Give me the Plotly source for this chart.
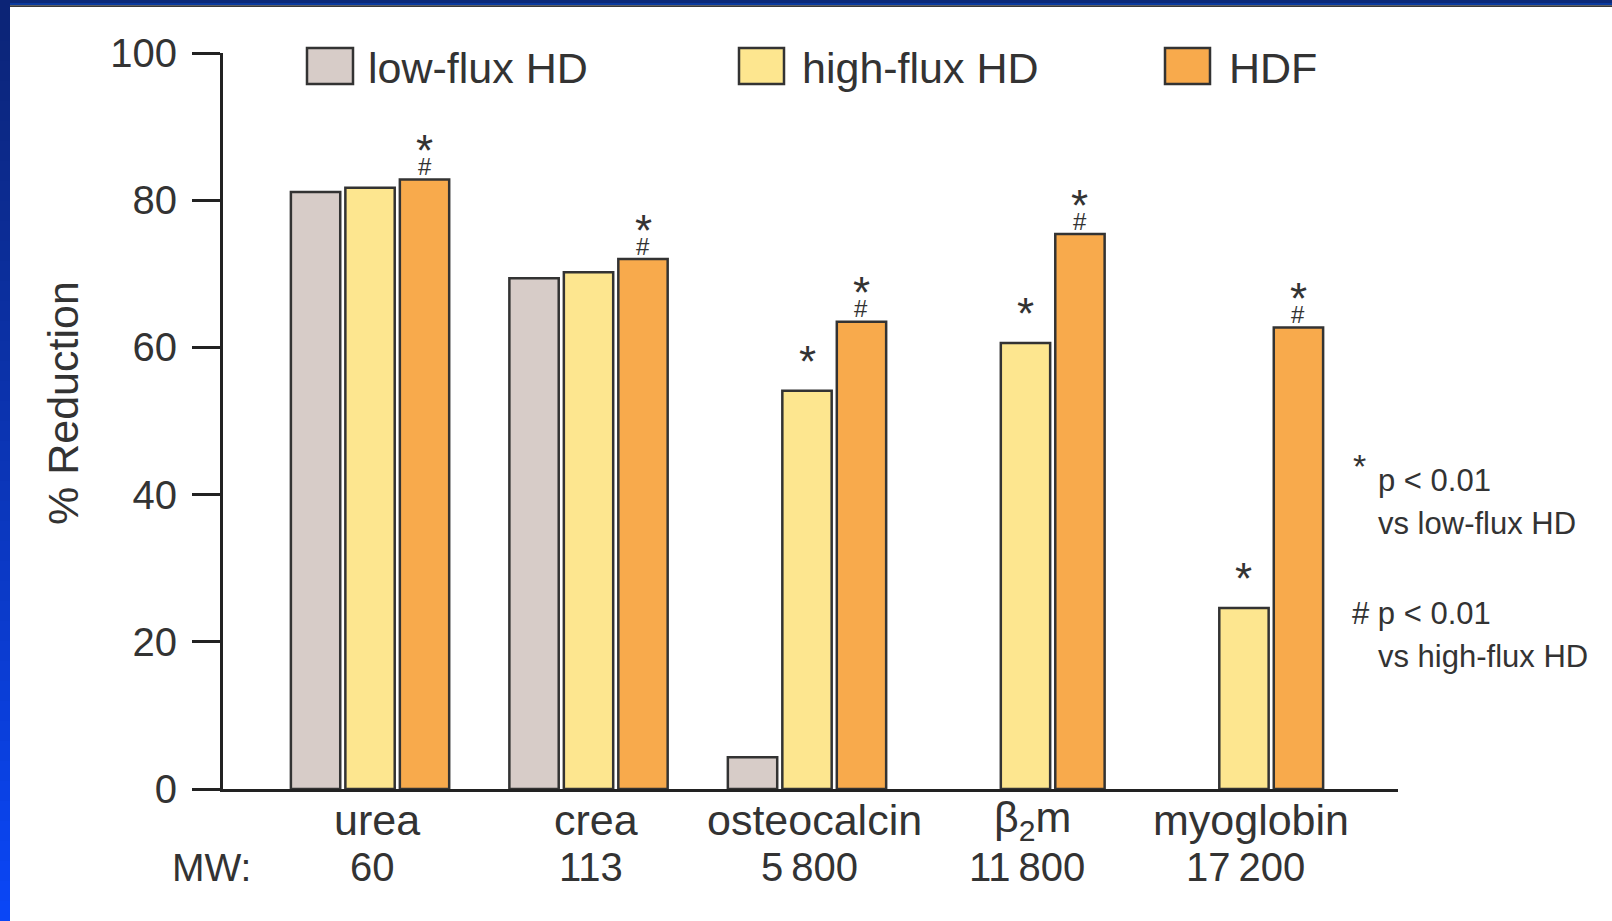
import plotly.graph_objects as go

# ---------------- data ----------------
categories = ["urea", "crea", "osteocalcin", "β<sub>2</sub>m", "myoglobin"]
mw_labels = ["60", "113", "5\u2009800", "11\u2009800", "17\u2009200"]
series_names = ["low-flux HD", "high-flux HD", "HDF"]
low_flux = [81.1, 69.4, 4.3, None, None]
high_flux = [81.7, 70.2, 54.1, 60.6, 24.6]
hdf = [82.8, 72.0, 63.5, 75.4, 62.7]
# significance: '*' p<0.01 vs low-flux HD, '#' p<0.01 vs high-flux HD
sig_high = ["", "", "*", "*", "*"]
sig_hdf = ["*#", "*#", "*#", "*#", "*#"]
y_ticks = [0, 20, 40, 60, 80, 100]

colors = ["#d7ccc8", "#fde68f", "#f8aa4c"]
FONT = "Liberation Sans, Arial, Helvetica, sans-serif"
TXT = "#333333"

# ---------------- layout geometry ----------------
W, H = 1612, 921
L, R, T, B = 223, 214, 53, 132
PW, PH = W - L - R, H - T - B
X_RANGE = [-0.673, 4.705]
BARGAP = 0.252
SLOT = (1 - BARGAP) / 3


def px(xp):
    return (xp - L) / PW


def py(yp):
    return (H - B - yp) / PH


fig = go.Figure()
idx = list(range(len(categories)))
for name, vals, col in zip(series_names, [low_flux, high_flux, hdf], colors):
    fig.add_trace(go.Bar(
        x=idx, y=vals, name=name,
        marker=dict(color=col, line=dict(color="#333333", width=2.5)),
        showlegend=False,
    ))

annotations = []
shapes = []

# significance markers above bars
for i in idx:
    for offs, vals, sig in [(0.0, high_flux, sig_high[i]), (SLOT, hdf, sig_hdf[i])]:
        v = vals[i]
        if v is None or not sig:
            continue
        if "*" in sig:
            annotations.append(dict(x=i + offs, y=v, xref="x", yref="y", text="*",
                                    showarrow=False, yanchor="middle", yshift=29,
                                    font=dict(size=44, color=TXT, family=FONT)))
        if "#" in sig:
            annotations.append(dict(x=i + offs, y=v, xref="x", yref="y", text="#",
                                    showarrow=False, yanchor="middle", yshift=13,
                                    font=dict(size=24, color=TXT, family=FONT)))

# category names and MW row
for i, c in zip(idx, categories):
    annotations.append(dict(x=i, y=py(820), xref="x", yref="paper", text=c,
                            showarrow=False, xanchor="center", yanchor="middle", xshift=7,
                            font=dict(size=43, color=TXT, family=FONT)))
annotations.append(dict(x=px(211), y=py(867), xref="paper", yref="paper", text="MW:",
                        showarrow=False, xanchor="center", yanchor="middle",
                        font=dict(size=39, color=TXT, family=FONT)))
for i, m in zip(idx, mw_labels):
    annotations.append(dict(x=i, y=py(867), xref="x", yref="paper", text=m,
                            showarrow=False, xanchor="center", yanchor="middle", xshift=2,
                            font=dict(size=40, color=TXT, family=FONT)))

# y title
annotations.append(dict(x=px(63), y=py(403), xref="paper", yref="paper", text="% Reduction",
                        textangle=-90, showarrow=False, xanchor="center", yanchor="middle",
                        font=dict(size=43, color=TXT, family=FONT)))

# legend (manual)
leg_boxes = [(307, 353), (739, 784), (1165, 1210)]
leg_text_x = [366, 800, 1227]
for (x0, x1), tx, name, col in zip(leg_boxes, leg_text_x, series_names, colors):
    shapes.append(dict(type="rect", xref="paper", yref="paper",
                       x0=px(x0), x1=px(x1), y0=py(84), y1=py(48),
                       fillcolor=col, line=dict(color="#333333", width=2.5)))
    annotations.append(dict(x=px(tx), y=py(68), xref="paper", yref="paper", text=name,
                            showarrow=False, xanchor="left", yanchor="middle",
                            font=dict(size=43, color=TXT, family=FONT)))

# significance note on the right
note_font = dict(size=31, color=TXT, family=FONT)
annotations += [
    dict(x=px(1359), y=py(466), xref="paper", yref="paper", text="*", showarrow=False,
         xanchor="center", yanchor="middle", font=dict(size=34, color=TXT, family=FONT)),
    dict(x=px(1376), y=py(480), xref="paper", yref="paper", text="p < 0.01", showarrow=False,
         xanchor="left", yanchor="middle", font=note_font),
    dict(x=px(1376), y=py(523), xref="paper", yref="paper", text="vs low-flux HD", showarrow=False,
         xanchor="left", yanchor="middle", font=note_font),
    dict(x=px(1350), y=py(613), xref="paper", yref="paper", text="# p < 0.01", showarrow=False,
         xanchor="left", yanchor="middle", font=note_font),
    dict(x=px(1376), y=py(656), xref="paper", yref="paper", text="vs high-flux HD", showarrow=False,
         xanchor="left", yanchor="middle", font=note_font),
]

# slide frame: blue gradient strip on the left, bands on top
N = 46
c_top = (12, 36, 118)
c_bot = (10, 70, 246)
for k in range(N):
    t = k / (N - 1)
    c = tuple(round(a + (b - a) * t) for a, b in zip(c_top, c_bot))
    y0p = k * H / N
    y1p = (k + 1) * H / N + 1
    shapes.append(dict(type="rect", xref="paper", yref="paper", layer="above",
                       x0=px(0), x1=px(10), y0=py(min(y1p, H)), y1=py(y0p),
                       fillcolor="rgb(%d,%d,%d)" % c, line=dict(width=0)))
shapes += [
    dict(type="rect", xref="paper", yref="paper", x0=px(10), x1=px(W), y0=py(3), y1=py(0),
         fillcolor="#0c2a78", line=dict(width=0)),
    dict(type="rect", xref="paper", yref="paper", x0=px(10), x1=px(W), y0=py(5.3), y1=py(3),
         fillcolor="#0a3a9e", line=dict(width=0)),
    dict(type="rect", xref="paper", yref="paper", x0=px(10), x1=px(W), y0=py(7), y1=py(5.3),
         fillcolor="#3a3a3a", line=dict(width=0)),
]

fig.update_layout(
    width=W, height=H,
    margin=dict(l=L, r=R, t=T, b=B, pad=0),
    paper_bgcolor="white", plot_bgcolor="white",
    barmode="group", bargap=BARGAP, bargroupgap=0.094,
    showlegend=False,
    font=dict(family=FONT, color=TXT),
    annotations=annotations, shapes=shapes,
    xaxis=dict(range=X_RANGE, tickmode="array", tickvals=idx, showticklabels=False,
               showline=True, linewidth=3, linecolor="#222222", ticks="",
               showgrid=False, zeroline=False),
    yaxis=dict(range=[0, 100], tickmode="array", tickvals=y_ticks,
               showline=True, linewidth=3, linecolor="#222222",
               ticks="outside", ticklen=28, tickwidth=3, tickcolor="#222222",
               showgrid=False, zeroline=False, ticklabelstandoff=7,
               tickfont=dict(size=40, color=TXT, family=FONT)),
)

fig.write_html("out.html")
